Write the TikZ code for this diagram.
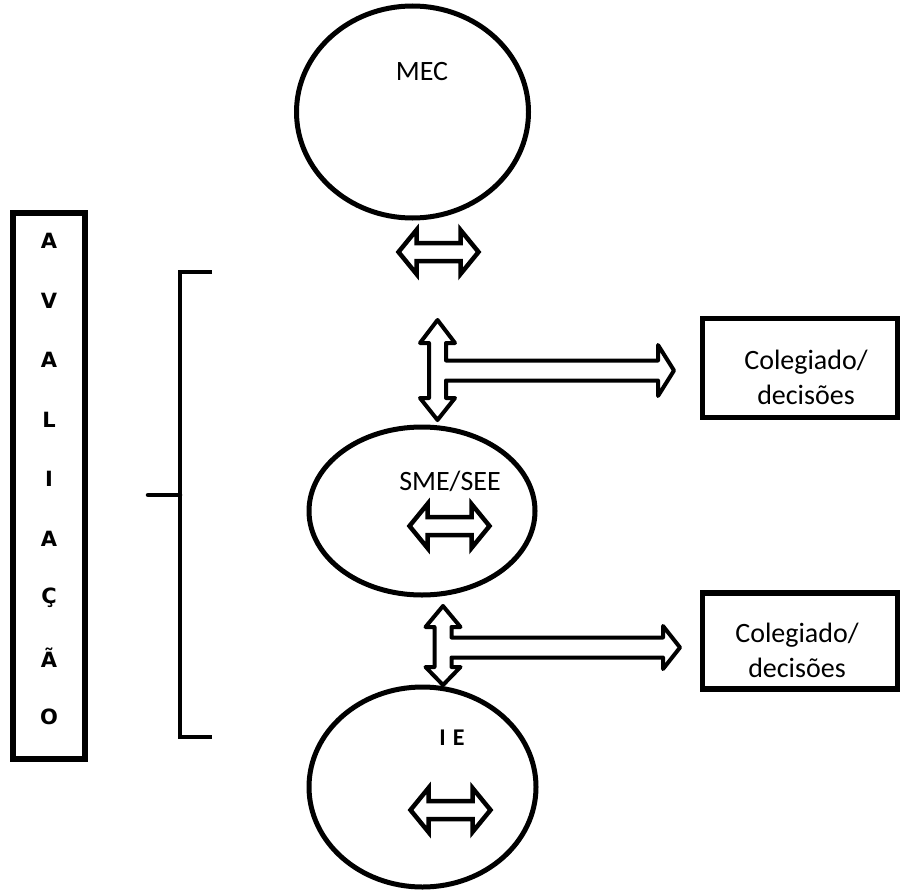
\documentclass[tikz,border=0pt]{standalone}
\usepackage{fontspec}
\setmainfont{Carlito}
\newfontfamily\letrafont{DejaVu Sans}
\usetikzlibrary{shapes.geometric,calc}

% block arrow in T form: axis x, top tip, top head base, bottom head base, bottom tip, shaft y, head half, head base x, tip x
\newcommand{\TArrow}[9]{%
  \draw[blockarr] (#1,#2) -- (#1+17.5,#3) -- (#1+8.5,#3) -- (#1+8.5,#6-10) -- (#8,#6-10)
    -- (#8,#6-#7) -- (#9,#6) -- (#8,#6+#7) -- (#8,#6+10) -- (#1+8.5,#6+10) -- (#1+8.5,#4)
    -- (#1+17.5,#4) -- (#1,#5) -- (#1-17.5,#4) -- (#1-8.5,#4) -- (#1-8.5,#3) -- (#1-17.5,#3) -- cycle;}

\tikzset{
  pics/dblarr/.style={code={
    \draw[blockarr, line width=4.5pt, line join=miter]
      (-40,0) -- (-22,-22) -- (-22,-9) -- (22,-9) -- (22,-22) -- (40,0)
      -- (22,22) -- (22,9) -- (-22,9) -- (-22,22) -- cycle;
  }}
}

\begin{document}
\begin{tikzpicture}[
  x=1pt, y=-1pt,
  oval/.style={ellipse, draw, line width=5pt, inner sep=0pt},
  box/.style={rectangle, draw, line width=5.5pt, inner sep=0pt},
  txt/.style={inner sep=0pt, align=center, font=\fontsize{28}{35}\selectfont},
  letra/.style={inner sep=0pt, font=\letrafont\bfseries\fontsize{21}{24}\selectfont},
  blockarr/.style={draw, fill=white, line width=4pt, line join=round},
  brk/.style={line width=4.5pt}
]
  \useasboundingbox (0,0) rectangle (901,891);

  % the three levels
  \node[oval, minimum width=232, minimum height=212] (mec) at (412.5,112) {};
  \node[txt] (meclbl) at (422,72) {MEC};
  \node[oval, minimum width=226, minimum height=168] (sme) at (422,511) {};
  \node[txt] (smelbl) at (450,481) {SME/SEE};
  \node[oval, minimum width=227, minimum height=200] (ie) at (422.5,787) {};
  \node[txt, font=\bfseries\fontsize{24}{28}\selectfont] (ielbl) at (452,738) {I\hspace{7pt}E};

  % small double arrows
  \coordinate (arrmec) at (438.5,252);
  \coordinate (arrsme) at (449.5,526);
  \coordinate (arrie) at (450.5,810);
  \pic at (arrmec) {dblarr};
  \pic at (arrsme) {dblarr};
  \pic at (arrie) {dblarr};

  % decision boxes
  \node[box, minimum width=195, minimum height=99] (col1) at (800,368) {};
  \node[txt] (col1lbl) at (806,377) {Colegiado/\\decisões};
  \node[box, minimum width=195, minimum height=96] (col2) at (800,641) {};
  \node[txt] (col2lbl) at (797,650) {Colegiado/\\decisões};

  % T arrows
  \TArrow{437.5}{320}{343}{398}{420}{370.5}{25.5}{658}{674}
  \TArrow{443}{606}{627}{667}{685}{647.5}{21.5}{663}{680}

  % avaliacao column
  \node[box, line width=6pt, minimum width=72, minimum height=546] (aval) at (49,486) {};
  \foreach \ch [count=\i from 0] in {A,V,A,L,I,A,Ç,Ã,O}
    \node[letra] (av\i) at (49,241+59.5*\i) {\ch};

  % bracket
  \draw[brk] (212,272) -- (180,272) -- (180,737) -- (212,737);
  \draw[brk, line cap=round] (148,495) -- (180,495);
\end{tikzpicture}
\end{document}
